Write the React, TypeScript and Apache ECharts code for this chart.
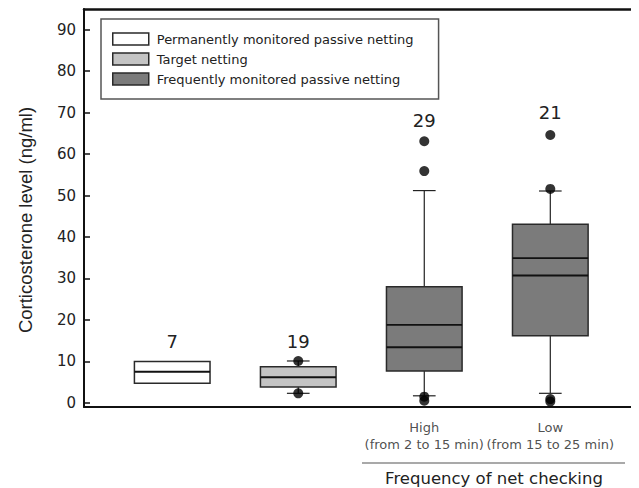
import React, { useEffect, useRef } from "react";
import * as echarts from "echarts";

// ---- data ----
const groupNames = [
  "Permanently monitored passive netting",
  "Target netting",
  "Frequently monitored passive netting",
];
const groupFills = ["#ffffff", "#c4c4c4", "#7b7b7b"];
const boxPositions = [1, 2, 3, 4];
const boxGroup = [0, 1, 2, 2];
const q1 = [4.7, 3.8, 7.7, 16.2];
const q3 = [10.0, 8.7, 28.0, 43.1];
const median = [7.5, 6.2, 13.4, 30.7];
const mean = [NaN, NaN, 18.8, 34.9];
const whiskerLow = [NaN, 2.3, 1.7, 2.3];
const whiskerHigh = [NaN, 10.1, 51.2, 51.1];
const sampleSizes = [7, 19, 29, 21];
const sampleLabelY = [14.7, 14.7, 68.0, 70.1];
const outlierPoints = [
  [2, 10.1], [2, 2.3],
  [3, 63.1], [3, 55.9], [3, 1.5], [3, 0.5],
  [4, 64.6], [4, 51.6], [4, 0.9], [4, 0.3],
];
const yTicks = [0, 10, 20, 30, 40, 50, 60, 70, 80, 90];
const xLabelValues = [3, 4];
const xLabelTexts = ["High\n(from 2 to 15 min)", "Low\n(from 15 to 25 min)"];
const yTitle = "Corticosterone level (ng/ml)";
const xTitle = "Frequency of net checking";

const Y_MIN = -1;
const Y_MAX = 95;
const X_MIN = 0.3;
const X_MAX = 4.68;

const FONT = "'DejaVu Sans', sans-serif";
const FONT_A = "'Liberation Sans', Arial, sans-serif";

function renderBox(params: any, api: any) {
  const x = api.value(0);
  const lo = api.value(1);
  const med = api.value(2);
  const hi = api.value(3);
  const wl = api.value(4);
  const wh = api.value(5);
  const mn = api.value(6);
  const n = api.value(7);
  const ny = api.value(8);
  const fill = api.visual("color");
  const bw = api.size([0.6, 0])[0];
  const cw = api.size([0.18, 0])[0];
  const pLo = api.coord([x, lo]);
  const pHi = api.coord([x, hi]);
  const cx = pLo[0];
  const children: any[] = [];
  const lineStyle = { stroke: "#222", lineWidth: 1.2 };
  if (isFinite(wh)) {
    const p = api.coord([x, wh]);
    children.push({ type: "line", shape: { x1: cx, y1: p[1], x2: cx, y2: pHi[1] }, style: lineStyle });
    children.push({ type: "line", shape: { x1: cx - cw / 2, y1: p[1], x2: cx + cw / 2, y2: p[1] }, style: lineStyle });
  }
  if (isFinite(wl)) {
    const p = api.coord([x, wl]);
    children.push({ type: "line", shape: { x1: cx, y1: pLo[1], x2: cx, y2: p[1] }, style: lineStyle });
    children.push({ type: "line", shape: { x1: cx - cw / 2, y1: p[1], x2: cx + cw / 2, y2: p[1] }, style: lineStyle });
  }
  children.push({
    type: "rect",
    shape: { x: cx - bw / 2, y: pHi[1], width: bw, height: pLo[1] - pHi[1] },
    style: { fill, stroke: "#2a2a2a", lineWidth: 1.5 },
  });
  const pm = api.coord([x, med]);
  children.push({ type: "line", shape: { x1: cx - bw / 2, y1: pm[1], x2: cx + bw / 2, y2: pm[1] }, style: { stroke: "#111", lineWidth: 2 } });
  if (isFinite(mn)) {
    const pa = api.coord([x, mn]);
    children.push({ type: "line", shape: { x1: cx - bw / 2, y1: pa[1], x2: cx + bw / 2, y2: pa[1] }, style: { stroke: "#111", lineWidth: 1.8 } });
  }
  const pt = api.coord([x, ny]);
  children.push({
    type: "text",
    x: cx,
    y: pt[1],
    style: { text: String(n), fontSize: 18, fontFamily: FONT, fill: "#222", align: "center", verticalAlign: "middle" },
  });
  return { type: "group", children };
}

export default function App() {
  const ref = useRef<HTMLDivElement>(null);
  useEffect(() => {
    if (!ref.current) return;
    const chart = echarts.init(ref.current, null, { renderer: "svg" });
    const boxSeries = groupNames.map((name, g) => ({
      type: "custom",
      name,
      renderItem: renderBox,
      itemStyle: { color: groupFills[g], borderColor: "#2a2a2a", borderWidth: 1.5 },
      data: boxPositions
        .map((p, i) => ({ i, v: [p, q1[i], median[i], q3[i], whiskerLow[i], whiskerHigh[i], mean[i], sampleSizes[i], sampleLabelY[i]] }))
        .filter((d) => boxGroup[d.i] === g)
        .map((d) => d.v),
      z: 2,
    }));
    chart.setOption({
      animation: false,
      backgroundColor: "#ffffff",
      grid: { left: 76, right: 3, top: 1, bottom: 81, containLabel: false },
      legend: {
        orient: "vertical",
        left: 93,
        top: 11,
        padding: [13, 25, 13, 11],
        itemWidth: 36,
        itemHeight: 12,
        itemGap: 6,
        backgroundColor: "#ffffff",
        borderColor: "#555",
        borderWidth: 1.5,
        borderRadius: 0,
        icon: "rect",
        selectedMode: false,
        textStyle: { fontSize: 13, lineHeight: 14, fontFamily: FONT, color: "#222", padding: [0, 0, 0, 3] },
        data: groupNames.map((name, g) => ({
          name,
          itemStyle: { color: groupFills[g], borderColor: "#2a2a2a", borderWidth: 1.5 },
        })),
      },
      xAxis: [
        {
          type: "value",
          min: X_MIN,
          max: X_MAX,
          position: "bottom",
          axisLine: { show: true, onZero: false, lineStyle: { color: "#111", width: 2 } },
          axisTick: { show: false },
          splitLine: { show: false },
          axisLabel: { show: false },
        },
        {
          type: "value",
          min: X_MIN,
          max: X_MAX,
          position: "top",
          axisLine: { show: true, onZero: false, lineStyle: { color: "#111", width: 2.5 } },
          axisTick: { show: false },
          axisLabel: { show: false },
          splitLine: { show: false },
        },
      ],
      yAxis: [
        {
          type: "value",
          min: Y_MIN,
          max: Y_MAX,
          position: "left",
          axisLine: { show: true, onZero: false, lineStyle: { color: "#111", width: 2 } },
          axisTick: { show: true, inside: true, length: 6, customValues: yTicks, lineStyle: { color: "#111", width: 1.5 } },
          axisLabel: { customValues: yTicks, fontSize: 15, margin: 8, color: "#222", fontFamily: FONT },
          splitLine: { show: false },
        },
        {
          type: "value",
          min: Y_MIN,
          max: Y_MAX,
          position: "right",
          axisLine: { show: true, onZero: false, lineStyle: { color: "#777", width: 1.5 } },
          axisTick: { show: false },
          axisLabel: { show: false },
          splitLine: { show: false },
        },
      ],
      graphic: [
        {
          type: "text",
          x: 17,
          y: 212,
          rotation: Math.PI / 2,
          style: { text: yTitle, fontSize: 18.5, fontFamily: FONT_A, fill: "#222", align: "center", verticalAlign: "middle" },
        },
        {
          type: "line",
          shape: { x1: 354, y1: 455, x2: 617, y2: 455 },
          style: { stroke: "#555", lineWidth: 1.2 },
        },
        {
          type: "text",
          x: 486,
          y: 470,
          style: { text: xTitle, fontSize: 16.5, fontFamily: FONT, fill: "#222", align: "center", verticalAlign: "middle" },
        },
      ],
      series: [
        ...boxSeries,
        {
          type: "scatter",
          name: "outliers",
          data: outlierPoints,
          symbol: "circle",
          symbolSize: 10,
          itemStyle: { color: "#000" },
          z: 5,
        },
        {
          type: "scatter",
          name: "category labels",
          data: xLabelValues.map((v, i) => ({ value: [v, Y_MIN], name: xLabelTexts[i] })),
          symbol: "circle",
          symbolSize: 2,
          itemStyle: { color: "rgba(0,0,0,0)" },
          silent: true,
          clip: false,
          z: 6,
          labelLayout: { hideOverlap: false },
          label: {
            show: true,
            position: "bottom",
            distance: 11,
            formatter: "{b}",
            fontSize: 13,
            lineHeight: 17,
            color: "#222",
            fontFamily: FONT,
            align: "center",
          },
        },
      ],
    });
    return () => chart.dispose();
  }, []);
  return <div ref={ref} style={{ width: 631, height: 480 }} />;
}
